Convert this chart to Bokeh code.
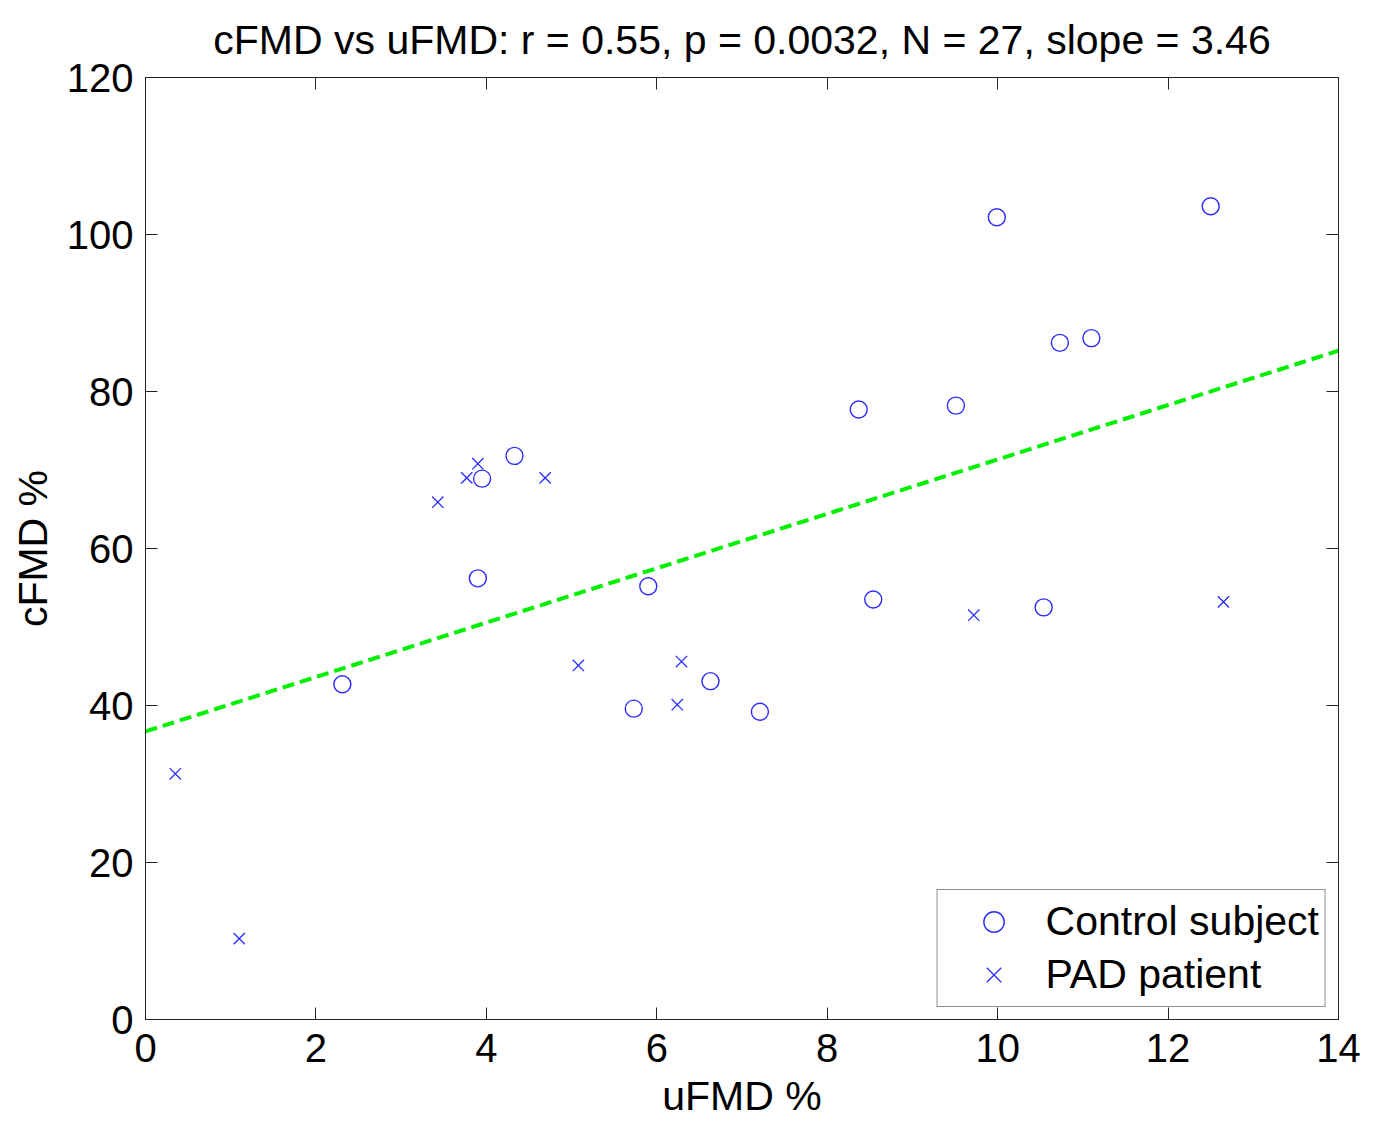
from bokeh.plotting import figure
from bokeh.models import LinearAxis, Legend, LegendItem, FixedTicker, Range1d
from bokeh.embed import file_html
from bokeh.resources import INLINE

# Control subjects (circles)
control_ufmd = [2.31, 3.90, 3.95, 4.33, 5.73, 5.90, 6.63, 7.21, 8.37, 8.54, 9.51, 9.99, 10.54, 10.73, 11.10, 12.50]
control_cfmd = [42.7, 56.2, 68.9, 71.8, 39.6, 55.2, 43.1, 39.2, 77.7, 53.5, 78.2, 102.2, 52.5, 86.2, 86.8, 103.6]

# PAD patients (crosses)
pad_ufmd = [0.35, 1.10, 3.43, 3.77, 3.90, 4.69, 5.08, 6.24, 6.29, 9.72, 12.65]
pad_cfmd = [31.3, 10.3, 65.9, 69.0, 70.8, 69.0, 45.1, 40.1, 45.6, 51.5, 53.2]

# Regression line (slope = 3.46)
fit_x = [0, 14]
fit_y = [36.7, 85.2]

x_ticks = [0, 2, 4, 6, 8, 10, 12, 14]
y_ticks = [0, 20, 40, 60, 80, 100, 120]
title_text = "cFMD vs uFMD: r = 0.55, p = 0.0032, N = 27, slope = 3.46"

FONT = "Liberation Sans"
FS = "41px"
TFS = "40px"
BLUE = "#2b2bff"
AX = "#222222"

p = figure(width=1368, height=1121, output_backend="svg", toolbar_location=None,
           x_range=Range1d(0, 14), y_range=Range1d(0, 120),
           min_border_left=145, min_border_right=30, min_border_top=77, min_border_bottom=102,
           title=title_text)

p.title.text_font = FONT
p.title.text_font_size = FS
p.title.text_font_style = "normal"
p.title.align = "center"
p.title.text_color = "black"
p.title.standoff = 29

p.grid.visible = False
p.outline_line_color = AX
p.outline_line_width = 1
p.background_fill_color = "white"
p.border_fill_color = "white"

for ax in (p.xaxis[0], p.yaxis[0]):
    ax.major_tick_in = 12
    ax.major_tick_out = 0
    ax.minor_tick_in = 0
    ax.minor_tick_out = 0
    ax.axis_line_color = AX
    ax.major_tick_line_color = AX
    ax.major_label_text_font = FONT
    ax.major_label_text_font_size = TFS
    ax.major_label_text_color = "black"
    ax.axis_label_text_font = FONT
    ax.axis_label_text_font_size = FS
    ax.axis_label_text_font_style = "normal"
    ax.axis_label_text_color = "black"

p.xaxis[0].ticker = FixedTicker(ticks=x_ticks)
p.yaxis[0].ticker = FixedTicker(ticks=y_ticks)
p.xaxis[0].axis_label = "uFMD %"
p.yaxis[0].axis_label = "cFMD %"
p.xaxis[0].major_label_standoff = 14
p.yaxis[0].major_label_standoff = 12
p.xaxis[0].axis_label_standoff = 8
p.yaxis[0].axis_label_standoff = 8

# mirror ticks on top and right
top = LinearAxis(ticker=FixedTicker(ticks=x_ticks), major_label_text_font_size="0px",
                 major_tick_in=12, major_tick_out=0, minor_tick_in=0, minor_tick_out=0,
                 axis_line_color=AX, major_tick_line_color=AX)
right = LinearAxis(ticker=FixedTicker(ticks=y_ticks), major_label_text_font_size="0px",
                   major_tick_in=12, major_tick_out=0, minor_tick_in=0, minor_tick_out=0,
                   axis_line_color=AX, major_tick_line_color=AX)
p.add_layout(top, "above")
p.add_layout(right, "right")

fit = p.line(fit_x, fit_y, line_color="#00f000", line_width=4, line_dash="12 6")
c = p.scatter(control_ufmd, control_cfmd, marker="circle", size=17, fill_color=None,
              line_color=BLUE, line_width=1.4)
x = p.scatter(pad_ufmd, pad_cfmd, marker="x", size=16, line_color=BLUE, line_width=1.3)

legend = Legend(items=[LegendItem(label="Control subject", renderers=[c]),
                       LegendItem(label="PAD patient", renderers=[x])],
                location="bottom_right")
legend.label_text_font = FONT
legend.label_text_font_size = FS
legend.label_text_color = "black"
legend.border_line_color = AX
legend.border_line_width = 1
legend.background_fill_alpha = 1
legend.margin = 12
legend.padding = 6
legend.spacing = 2
legend.glyph_width = 100
legend.glyph_height = 51
legend.label_height = 51
legend.label_standoff = 2
p.add_layout(legend, "center")

open("out.html", "w").write(file_html(p, INLINE))
